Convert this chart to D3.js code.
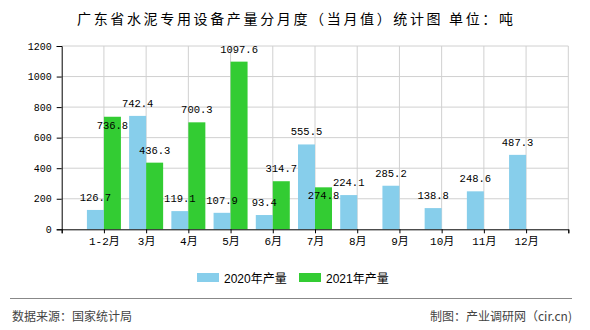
<!DOCTYPE html>
<html><head><meta charset="utf-8">
<script src="https://cdn.jsdelivr.net/npm/d3@7"></script>
<style>body{margin:0;background:#fff}svg{display:block}</style>
</head><body>
<svg id="c" width="590" height="330"></svg>
<script>
const categories = ["1-2月","3月","4月","5月","6月","7月","8月","9月","10月","11月","12月"];
const series2020 = [126.7,742.4,119.1,107.9,93.4,555.5,224.1,285.2,138.8,248.6,487.3];
const series2021 = [736.8,436.3,700.3,1097.6,314.7,274.8,null,null,null,null,null];
const seriesNames = ["2020年产量","2021年产量"];
const yTicks = [0,200,400,600,800,1000,1200];
const colors = ["#87CEEB","#33CC33"];

const svg = d3.select("#c");
const L = 61.7, R = 568.3, T = 46, B = 229.3;
const domain = ["__s", ...categories, "__e"];
const x = d3.scalePoint().domain(domain).range([L, R]);
const y = d3.scaleLinear().domain([0,1200]).range([B, T]);
const sub = d3.scaleBand().domain([0,1]).range([-17,17]);

// title
svg.append("text").attr("x",77).attr("y",24)
  .attr("textLength",436).attr("lengthAdjust","spacing")
  .style("font-family","'Noto Sans CJK SC'").style("font-size","14px").attr("fill","#000")
  .text("广东省水泥专用设备产量分月度（当月值）统计图 单位：吨");

// grid
const g = svg.append("g");
g.selectAll("line.h").data(yTicks.slice(1)).join("line")
  .attr("x1",L).attr("x2",R).attr("y1",d=>y(d)).attr("y2",d=>y(d))
  .attr("stroke","#d0d0d0").attr("stroke-width",1);
g.selectAll("line.v").data(domain.slice(1)).join("line")
  .attr("x1",d=>x(d)).attr("x2",d=>x(d)).attr("y1",T).attr("y2",B)
  .attr("stroke","#d0d0d0").attr("stroke-width",1);

// bars
const allSeries = [series2020, series2021];
allSeries.forEach((s,si)=>{
  svg.append("g").selectAll("rect").data(categories.map((c,i)=>({c,v:s[i]})).filter(d=>d.v!=null)).join("rect")
    .attr("x",d=>x(d.c)+sub(si)).attr("width",sub.bandwidth())
    .attr("y",d=>y(d.v)).attr("height",d=>B-y(d.v))
    .attr("fill",colors[si]);
});

// axes
const yAxis = d3.axisLeft(y).tickValues(yTicks).tickFormat(d3.format("d")).tickSize(5).tickPadding(5);
const ya = svg.append("g").attr("transform",`translate(${L},0)`).call(yAxis);
ya.selectAll("text").style("font-family","'Liberation Mono'").style("font-size","10px").attr("fill","#000");
ya.select(".domain").attr("stroke","#000");
ya.selectAll(".tick line").attr("stroke","#000");

const xAxis = d3.axisBottom(x).tickSize(4).tickPadding(4).tickFormat(d=>d.startsWith("__")?"":d);
const xa = svg.append("g").attr("transform",`translate(0,${B})`).call(xAxis);
xa.selectAll("text").style("font-family","'Liberation Mono','Noto Sans CJK SC'").style("font-size","11px").attr("fill","#000");
xa.select(".domain").attr("stroke","#000");
xa.selectAll(".tick line").attr("stroke","#000");

// value labels with simple collision avoidance
const cw = 6, lh = 8, pad = 2;
const placed = [];
const lab = svg.append("g").style("font-family","'Liberation Mono'").style("font-size","10.5px").attr("fill","#000").attr("text-anchor","middle");
allSeries.forEach((s,si)=>{
  s.forEach((v,i)=>{
    if(v==null) return;
    const t = v.toFixed(1);
    const cx = x(categories[i]) + sub(si) + sub.bandwidth()/2;
    const w = t.length*cw;
    let base = y(v) - 9;
    let box = {x0:cx-w/2, x1:cx+w/2, y0:base-lh, y1:base};
    const hit = placed.some(p=> box.x0 < p.x1+pad && box.x1+pad > p.x0 && box.y0 < p.y1+pad && box.y1+pad > p.y0);
    if(hit){ base = y(v) + 12; box = {x0:cx-w/2, x1:cx+w/2, y0:base-lh, y1:base}; }
    placed.push(box);
    lab.append("text").attr("x",cx).attr("y",base).text(t);
  });
});

// legend
const lg = svg.append("g").style("font-family","'Liberation Sans','Noto Sans CJK SC'").style("font-size","12px");
const lx = [197, 299];
seriesNames.forEach((n,i)=>{
  lg.append("rect").attr("x",lx[i]).attr("y",273).attr("width",22).attr("height",9).attr("fill",colors[i]);
  lg.append("text").attr("x",lx[i]+27).attr("y",282.5).attr("fill","#000").text(n);
});

// footer
svg.append("line").attr("x1",10).attr("x2",572).attr("y1",298.5).attr("y2",298.5).attr("stroke","#888").attr("stroke-width",1.2);
svg.append("text").attr("x",12).attr("y",321).style("font-family","'Noto Sans CJK SC'").style("font-size","12px").attr("fill","#444").text("数据来源：国家统计局");
svg.append("text").attr("x",572).attr("y",321).attr("text-anchor","end").style("font-family","'Noto Sans CJK SC'").style("font-size","12px").attr("fill","#444").text("制图：产业调研网（cir.cn)");
</script>
</body></html>
